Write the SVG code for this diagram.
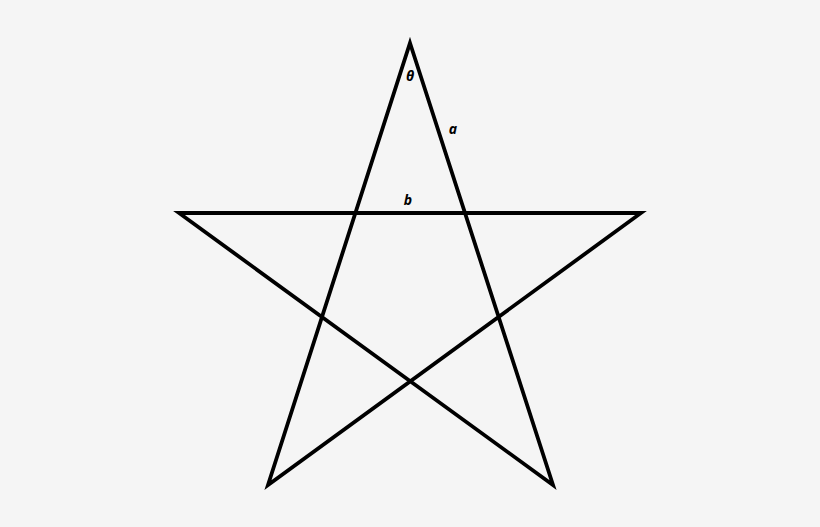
<svg xmlns="http://www.w3.org/2000/svg" width="820" height="527" viewBox="0 0 820 527">
<style>
.edge{fill:none;stroke:#000;stroke-width:3.8;stroke-linejoin:miter;stroke-linecap:round}
.lbl{font-family:"Open Sans","DejaVu Sans",sans-serif;font-style:italic;font-weight:bold;font-size:14px;fill:#000;text-anchor:middle}
</style>
<rect width="820" height="527" fill="#f5f5f5"/>
<g id="connectors">
<polygon class="edge" points="410,43 553,485 179,213 641,213 268,485"/>
</g>
<g id="label-theta"><text class="lbl" x="410" y="81">θ</text></g>
<g id="label-a"><text class="lbl" x="453" y="134">a</text></g>
<g id="label-b"><text class="lbl" x="408" y="205">b</text></g>
</svg>
